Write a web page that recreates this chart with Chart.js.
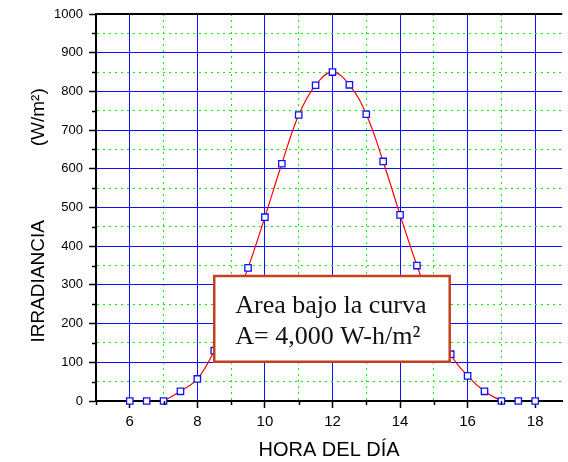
<!DOCTYPE html>
<html>
<head>
<meta charset="utf-8">
<script src="https://cdn.jsdelivr.net/npm/chart.js@4/dist/chart.umd.min.js"></script>
<style>
  html, body { margin: 0; padding: 0; background: #fff; }
  canvas { display: block; }
</style>
</head>
<body>
<canvas id="irrChart" width="568" height="462"></canvas>
<script>
// horas del dia y irradiancia medida (W/m2)
const horas = [6, 6.5, 7, 7.5, 8, 8.5, 9, 9.5, 10, 10.5, 11, 11.5, 12, 12.5, 13, 13.5, 14, 14.5, 15, 15.5, 16, 16.5, 17, 17.5, 18];
const irradiancia = [0, 0, 0, 25, 57, 130, 230, 344, 475, 613, 739, 816, 850, 817, 741, 619, 481, 350, 230, 121, 65, 25, 0, 0, 0];
// tramo de la curva ajustada
const curvaDesde = 7;
const curvaHasta = 17;

const xTickLabels = [6, 8, 10, 12, 14, 16, 18];
const yTickLabels = [0, 100, 200, 300, 400, 500, 600, 700, 800, 900, 1000];

const notaTexto = ['Area bajo la curva', 'A= 4,000 W-h/m²'];
const notaX = [8.5, 15.47];
const notaY = [101.5, 323];

const AZUL = '#1010ff';
const VERDE = '#00ee00';

const puntos = horas.map((h, i) => ({ x: h, y: irradiancia[i] }));
const curva = puntos.filter(p => p.x >= curvaDesde && p.x <= curvaHasta);

// ticks menores, marco superior y recuadro de texto
const extras = {
  id: 'extras',
  afterDatasetsDraw(chart) {
    const { ctx, chartArea: a, scales: { x, y } } = chart;
    ctx.save();
    ctx.strokeStyle = '#000';
    ctx.lineWidth = 2;
    ctx.beginPath();
    ctx.moveTo(a.left - 1, a.top);
    ctx.lineTo(a.right, a.top);
    ctx.stroke();

    ctx.lineWidth = 1.5;
    x.ticks.forEach(t => {
      if (t.value % 2 === 0) return;
      const px = Math.round(x.getPixelForValue(t.value)) + 0.5;
      ctx.beginPath();
      ctx.moveTo(px, a.bottom);
      ctx.lineTo(px, a.bottom + 4);
      ctx.stroke();
    });
    y.ticks.forEach(t => {
      if (t.value % 100 === 0) return;
      const py = Math.round(y.getPixelForValue(t.value)) + 0.5;
      ctx.beginPath();
      ctx.moveTo(a.left, py);
      ctx.lineTo(a.left - 4, py);
      ctx.stroke();
    });

    const l = x.getPixelForValue(notaX[0]);
    const r = x.getPixelForValue(notaX[1]);
    const t = y.getPixelForValue(notaY[1]);
    const b = y.getPixelForValue(notaY[0]);
    ctx.fillStyle = '#fff';
    ctx.fillRect(l, t, r - l, b - t);
    ctx.strokeStyle = '#c8401c';
    ctx.lineWidth = 2.5;
    ctx.strokeRect(l, t, r - l, b - t);
    ctx.fillStyle = '#111';
    ctx.font = '26px "Liberation Serif", "Times New Roman", serif';
    ctx.textBaseline = 'alphabetic';
    ctx.textAlign = 'left';
    ctx.fillText(notaTexto[0], l + 21, t + 37);
    ctx.fillText(notaTexto[1], l + 21, t + 68);
    ctx.restore();
  }
};

const ctx = document.getElementById('irrChart').getContext('2d');
new Chart(ctx, {
  type: 'line',
  data: {
    datasets: [
      {
        label: 'Medidas',
        data: puntos,
        showLine: false,
        pointStyle: 'rect',
        pointRadius: 4.5,
        pointBorderColor: AZUL,
        pointBackgroundColor: '#fff',
        pointBorderWidth: 1.3,
        clip: false,
        order: 0
      },
      {
        label: 'Curva',
        data: curva,
        borderColor: '#ff0000',
        borderWidth: 1.2,
        tension: 0.4,
        fill: false,
        pointRadius: 0,
        order: 1
      }
    ]
  },
  options: {
    responsive: false,
    animation: false,
    layout: { padding: { top: 14, right: 0, bottom: 0, left: 0 } },
    plugins: {
      legend: { display: false },
      tooltip: { enabled: false }
    },
    scales: {
      x: {
        type: 'linear',
        min: 5,
        max: 18.8,
        afterFit: s => { s.height = 61; },
        ticks: {
          stepSize: 1,
          includeBounds: false,
          autoSkip: false,
          maxRotation: 0,
          padding: 5,
          color: '#000',
          font: { family: 'Arial, "Liberation Sans", sans-serif', size: 15 },
          callback: v => xTickLabels.includes(v) ? String(v) : ''
        },
        grid: {
          color: c => (c.tick && c.tick.value % 2 === 0) ? AZUL : VERDE,
          lineWidth: 1,
          tickLength: 7,
          tickWidth: 1.5,
          tickColor: c => (c.tick && c.tick.value % 2 === 0) ? '#000' : 'rgba(0,0,0,0)'
        },
        border: {
          color: '#000',
          width: 2,
          dash: c => (c.tick && c.tick.value % 2 !== 0) ? [2, 4] : []
        },
        title: {
          display: true,
          text: 'HORA DEL DÍA',
          color: '#000',
          padding: { top: 0, bottom: 0 },
          font: { family: 'Arial, "Liberation Sans", sans-serif', size: 20 }
        }
      },
      y: {
        type: 'linear',
        min: 0,
        max: 1000,
        afterFit: s => { s.width = 96; },
        ticks: {
          stepSize: 50,
          autoSkip: false,
          padding: 6,
          color: '#000',
          font: { family: 'Arial, "Liberation Sans", sans-serif', size: 13 },
          callback: v => yTickLabels.includes(v) ? String(v) : ''
        },
        grid: {
          color: c => (c.tick && c.tick.value % 100 === 0) ? AZUL : VERDE,
          lineWidth: 1,
          tickLength: 7,
          tickWidth: 1.5,
          tickColor: c => (c.tick && c.tick.value % 100 === 0) ? '#000' : 'rgba(0,0,0,0)'
        },
        border: {
          color: '#000',
          width: 2,
          dash: c => (c.tick && c.tick.value % 100 !== 0) ? [2, 4] : []
        },
        title: {
          display: true,
          text: 'IRRADIANCIA' + ' '.repeat(14) + '(W/m²)' + '   ',
          color: '#000',
          padding: { top: 27, bottom: 0 },
          font: { family: 'Arial, "Liberation Sans", sans-serif', size: 19 }
        }
      }
    }
  },
  plugins: [extras]
});
</script>
</body>
</html>
